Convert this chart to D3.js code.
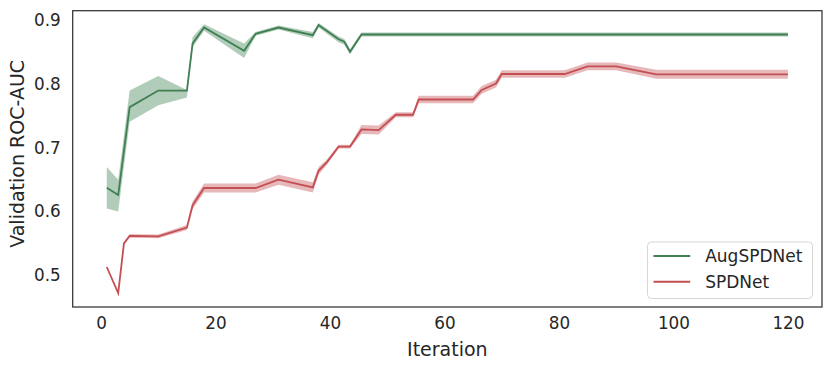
<!DOCTYPE html>
<html>
<head>
<meta charset="utf-8">
<script src="https://cdn.jsdelivr.net/npm/d3@7"></script>
<style>
  body { margin: 0; background: #fff; }
  text { font-family: "DejaVu Sans", sans-serif; fill: #262626; }
</style>
</head>
<body>
<div id="chart"></div>
<script>
// values
var augIter = [1, 3, 5, 10, 15, 16, 18, 25, 27, 31, 37, 38, 41.5, 42.5, 43.5, 45.5, 120]
var augMean = [0.6375, 0.626, 0.764, 0.790, 0.790, 0.864, 0.889, 0.8526, 0.879, 0.889, 0.877, 0.893, 0.8705, 0.8667, 0.851, 0.878, 0.878]
var augLow  = [0.605, 0.600, 0.741, 0.767, 0.779, 0.858, 0.884, 0.841, 0.876, 0.886, 0.872, 0.889, 0.866, 0.862, 0.847, 0.875, 0.875]
var augHigh = [0.670, 0.650, 0.790, 0.813, 0.791, 0.874, 0.894, 0.864, 0.882, 0.892, 0.882, 0.896, 0.875, 0.871, 0.855, 0.881, 0.881]

var spdIter = [1, 3, 4, 5, 10, 15, 16, 18, 25, 27, 31, 37, 38, 39.5, 41.5, 43.5, 45.5, 48.5, 51.5, 54.5, 55.5, 65, 66.5, 69, 70, 81, 85, 90, 97, 120]
var spdMean = [0.513, 0.472, 0.550, 0.562, 0.561, 0.575, 0.610, 0.637, 0.637, 0.637, 0.650, 0.638, 0.664, 0.678, 0.702, 0.702, 0.729, 0.728, 0.752, 0.752, 0.776, 0.776, 0.791, 0.801, 0.816, 0.816, 0.828, 0.828, 0.8155, 0.8155]
var spdLow  = [0.513, 0.472, 0.548, 0.559, 0.558, 0.571, 0.604, 0.630, 0.630, 0.630, 0.642, 0.630, 0.658, 0.674, 0.699, 0.699, 0.722, 0.721, 0.748, 0.748, 0.770, 0.770, 0.785, 0.795, 0.810, 0.810, 0.822, 0.822, 0.8085, 0.8085]
var spdHigh = [0.513, 0.472, 0.552, 0.565, 0.564, 0.579, 0.616, 0.644, 0.644, 0.644, 0.658, 0.646, 0.670, 0.682, 0.705, 0.705, 0.736, 0.735, 0.756, 0.756, 0.782, 0.782, 0.797, 0.807, 0.822, 0.822, 0.834, 0.834, 0.8225, 0.8225]

var seriesNames = ['AugSPDNet', 'SPDNet']
var seriesColors = ['#3f7f52', '#c44e52']
var xTicks = [0, 20, 40, 60, 80, 100, 120]
var yTicks = [0.5, 0.6, 0.7, 0.8, 0.9]

var margin = {top: 10.7, right: 9, bottom: 62, left: 72.7}
var totalWidth = 831
var totalHeight = 369
var width = totalWidth - margin.left - margin.right
var height = totalHeight - margin.top - margin.bottom

var xPositionScale = d3.scaleLinear().domain([-4.95, 125.95]).range([0, width])
var yPositionScale = d3.scaleLinear().domain([0.4502, 0.9154]).range([height, 0])

var svg = d3.select('#chart')
  .append('svg')
  .attr('width', totalWidth)
  .attr('height', totalHeight)
  .append('g')
  .attr('transform', 'translate(' + margin.left + ',' + margin.top + ')')

function makeRows(iter, mean, low, high) {
  return iter.map((d, i) => ({x: d, y: mean[i], lo: low[i], hi: high[i]}))
}

var series = [
  makeRows(augIter, augMean, augLow, augHigh),
  makeRows(spdIter, spdMean, spdLow, spdHigh)
]

var area = d3.area()
  .x(d => xPositionScale(d.x))
  .y0(d => yPositionScale(d.lo))
  .y1(d => yPositionScale(d.hi))

var line = d3.line()
  .x(d => xPositionScale(d.x))
  .y(d => yPositionScale(d.y))

series.forEach((rows, i) => {
  svg.append('path')
    .datum(rows)
    .attr('d', area)
    .attr('fill', seriesColors[i])
    .attr('fill-opacity', 0.4)
    .attr('stroke', 'none')
  svg.append('path')
    .datum(rows)
    .attr('d', line)
    .attr('fill', 'none')
    .attr('stroke', seriesColors[i])
    .attr('stroke-width', 1.8)
})

// axes, no tick marks (seaborn white style)
var xAxis = d3.axisBottom(xPositionScale).tickValues(xTicks).tickSize(0).tickPadding(10)
svg.append('g')
  .attr('class', 'axis axis-x')
  .attr('transform', 'translate(0,' + height + ')')
  .call(xAxis)

var yAxis = d3.axisLeft(yPositionScale).tickValues(yTicks).tickSize(0).tickPadding(12)
  .tickFormat(d3.format('.1f'))
svg.append('g')
  .attr('class', 'axis axis-y')
  .call(yAxis)

svg.selectAll('.axis .domain').remove()
svg.selectAll('.axis text')
  .style('font-size', '16.8px')
  .attr('fill', '#262626')

svg.append('rect')
  .attr('width', width)
  .attr('height', height)
  .attr('fill', 'none')
  .attr('stroke', '#333')
  .attr('stroke-width', 1.25)

svg.append('text')
  .attr('x', width / 2)
  .attr('y', height + 49)
  .attr('text-anchor', 'middle')
  .style('font-size', '19px')
  .text('Iteration')

svg.append('text')
  .attr('transform', 'translate(' + (-49) + ',' + (height / 2 - 5) + ') rotate(-90)')
  .attr('text-anchor', 'middle')
  .style('font-size', '19px')
  .text('Validation ROC-AUC')

// legend
var legend = svg.append('g')
  .attr('transform', 'translate(' + (width - 174.5) + ',' + (height - 65) + ')')

legend.append('rect')
  .attr('width', 165)
  .attr('height', 56.5)
  .attr('rx', 4)
  .attr('fill', '#fff')
  .attr('fill-opacity', 0.8)
  .attr('stroke', '#d6d6d6')

seriesNames.forEach((name, i) => {
  var row = legend.append('g').attr('transform', 'translate(0,' + (14 + i * 25.7) + ')')
  row.append('line')
    .attr('x1', 6).attr('x2', 42.7)
    .attr('stroke', seriesColors[i])
    .attr('stroke-width', 2)
  row.append('text')
    .attr('x', 57.7)
    .attr('dy', '0.35em')
    .style('font-size', '17px')
    .text(name)
})
</script>
</body>
</html>
